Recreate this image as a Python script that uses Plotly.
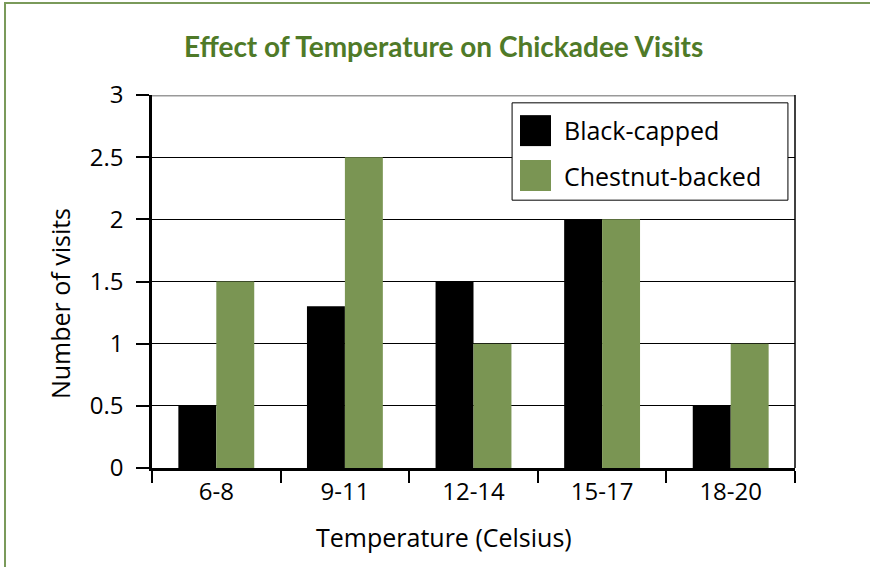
import plotly.graph_objects as go

temps = ["6-8", "9-11", "12-14", "15-17", "18-20"]
black_capped = [0.5, 1.3, 1.5, 2.0, 0.5]
chestnut_backed = [1.5, 2.5, 1.0, 2.0, 1.0]
series_names = ["Black-capped", "Chestnut-backed"]
y_ticks = [0, 0.5, 1, 1.5, 2, 2.5, 3]

BLACK = "#000000"
GREEN = "#7a9553"
TITLE_GREEN = "#4f7a28"
FONT = "Open Sans"

fig = go.Figure()
fig.add_trace(go.Bar(x=temps, y=black_capped, name=series_names[0],
                     marker=dict(color=BLACK, line=dict(width=0))))
fig.add_trace(go.Bar(x=temps, y=chestnut_backed, name=series_names[1],
                     marker=dict(color=GREEN, line=dict(width=0))))

shapes = [
    # top gridline is grey, right border black
    dict(type="line", xref="paper", yref="y", x0=0, x1=1, y0=3, y1=3,
         line=dict(color="#999999", width=3), layer="above"),
    dict(type="line", xref="paper", yref="paper", x0=1, x1=1, y0=0, y1=1,
         line=dict(color="black", width=1.5), layer="above"),
    # outer green frame (left + top)
    dict(type="path", xref="paper", yref="paper",
         path="M -0.2286,-0.3 L -0.2286,1.2466 L 1.2,1.2466",
         line=dict(color="#7a9a5a", width=2)),
    # legend box
    dict(type="rect", xref="paper", yref="paper", x0=0.56, x1=0.989, y0=0.718, y1=0.979,
         line=dict(color="black", width=1), fillcolor="white", layer="above"),
    dict(type="rect", xref="paper", yref="paper", x0=0.5723, x1=0.6205, y0=0.863, y1=0.946,
         line=dict(width=0), fillcolor=BLACK, layer="above"),
    dict(type="rect", xref="paper", yref="paper", x0=0.5723, x1=0.6205, y0=0.7426, y1=0.8257,
         line=dict(width=0), fillcolor=GREEN, layer="above"),
]

annotations = [
    dict(text=series_names[0], xref="paper", yref="paper", x=0.637, y=0.905,
         xanchor="left", yanchor="middle", showarrow=False,
         font=dict(family=FONT, size=25, color="black")),
    dict(text=series_names[1], xref="paper", yref="paper", x=0.637, y=0.782,
         xanchor="left", yanchor="middle", showarrow=False,
         font=dict(family=FONT, size=25, color="black")),
    dict(text="Temperature (Celsius)", xref="paper", yref="paper", x=0.4534, y=-0.185,
         xanchor="center", yanchor="middle", showarrow=False,
         font=dict(family=FONT, size=25, color="black")),
    dict(text="Number of visits", xref="paper", yref="paper", x=-0.1431, y=0.442,
         xanchor="center", yanchor="middle", showarrow=False, textangle=-90,
         font=dict(family=FONT, size=25, color="black")),
]

fig.update_layout(
    width=870, height=567,
    margin=dict(l=152, r=75, t=95, b=99),
    paper_bgcolor="white", plot_bgcolor="white",
    barmode="group", bargap=0.41, bargroupgap=0,
    showlegend=False,
    title=dict(text="Effect of Temperature on Chickadee Visits", x=0.51, y=0.917,
               xanchor="center", yanchor="middle",
               font=dict(family="Lato", size=28, color=TITLE_GREEN, weight="bold")),
    font=dict(family=FONT, size=24, color="black"),
    shapes=shapes,
    annotations=annotations,
)
fig.update_xaxes(type="category", tickson="boundaries", ticks="outside", ticklen=12,
                 tickcolor="black", tickwidth=1.5, showline=True, linecolor="black",
                 linewidth=2.5, showgrid=False, tickfont=dict(size=24))
fig.update_yaxes(range=[0, 3], tickvals=y_ticks, ticktext=[f"{v:g}" for v in y_ticks],
                 ticks="outside", ticklen=13, tickcolor="black", tickwidth=1.5,
                 showline=True, linecolor="black", linewidth=2.5,
                 showgrid=True, gridcolor="black", gridwidth=1, zeroline=False,
                 ticklabelstandoff=8, tickfont=dict(size=24))

fig.write_html("out.html", config={"displayModeBar": False},
               post_script="document.body.style.margin='0';")
